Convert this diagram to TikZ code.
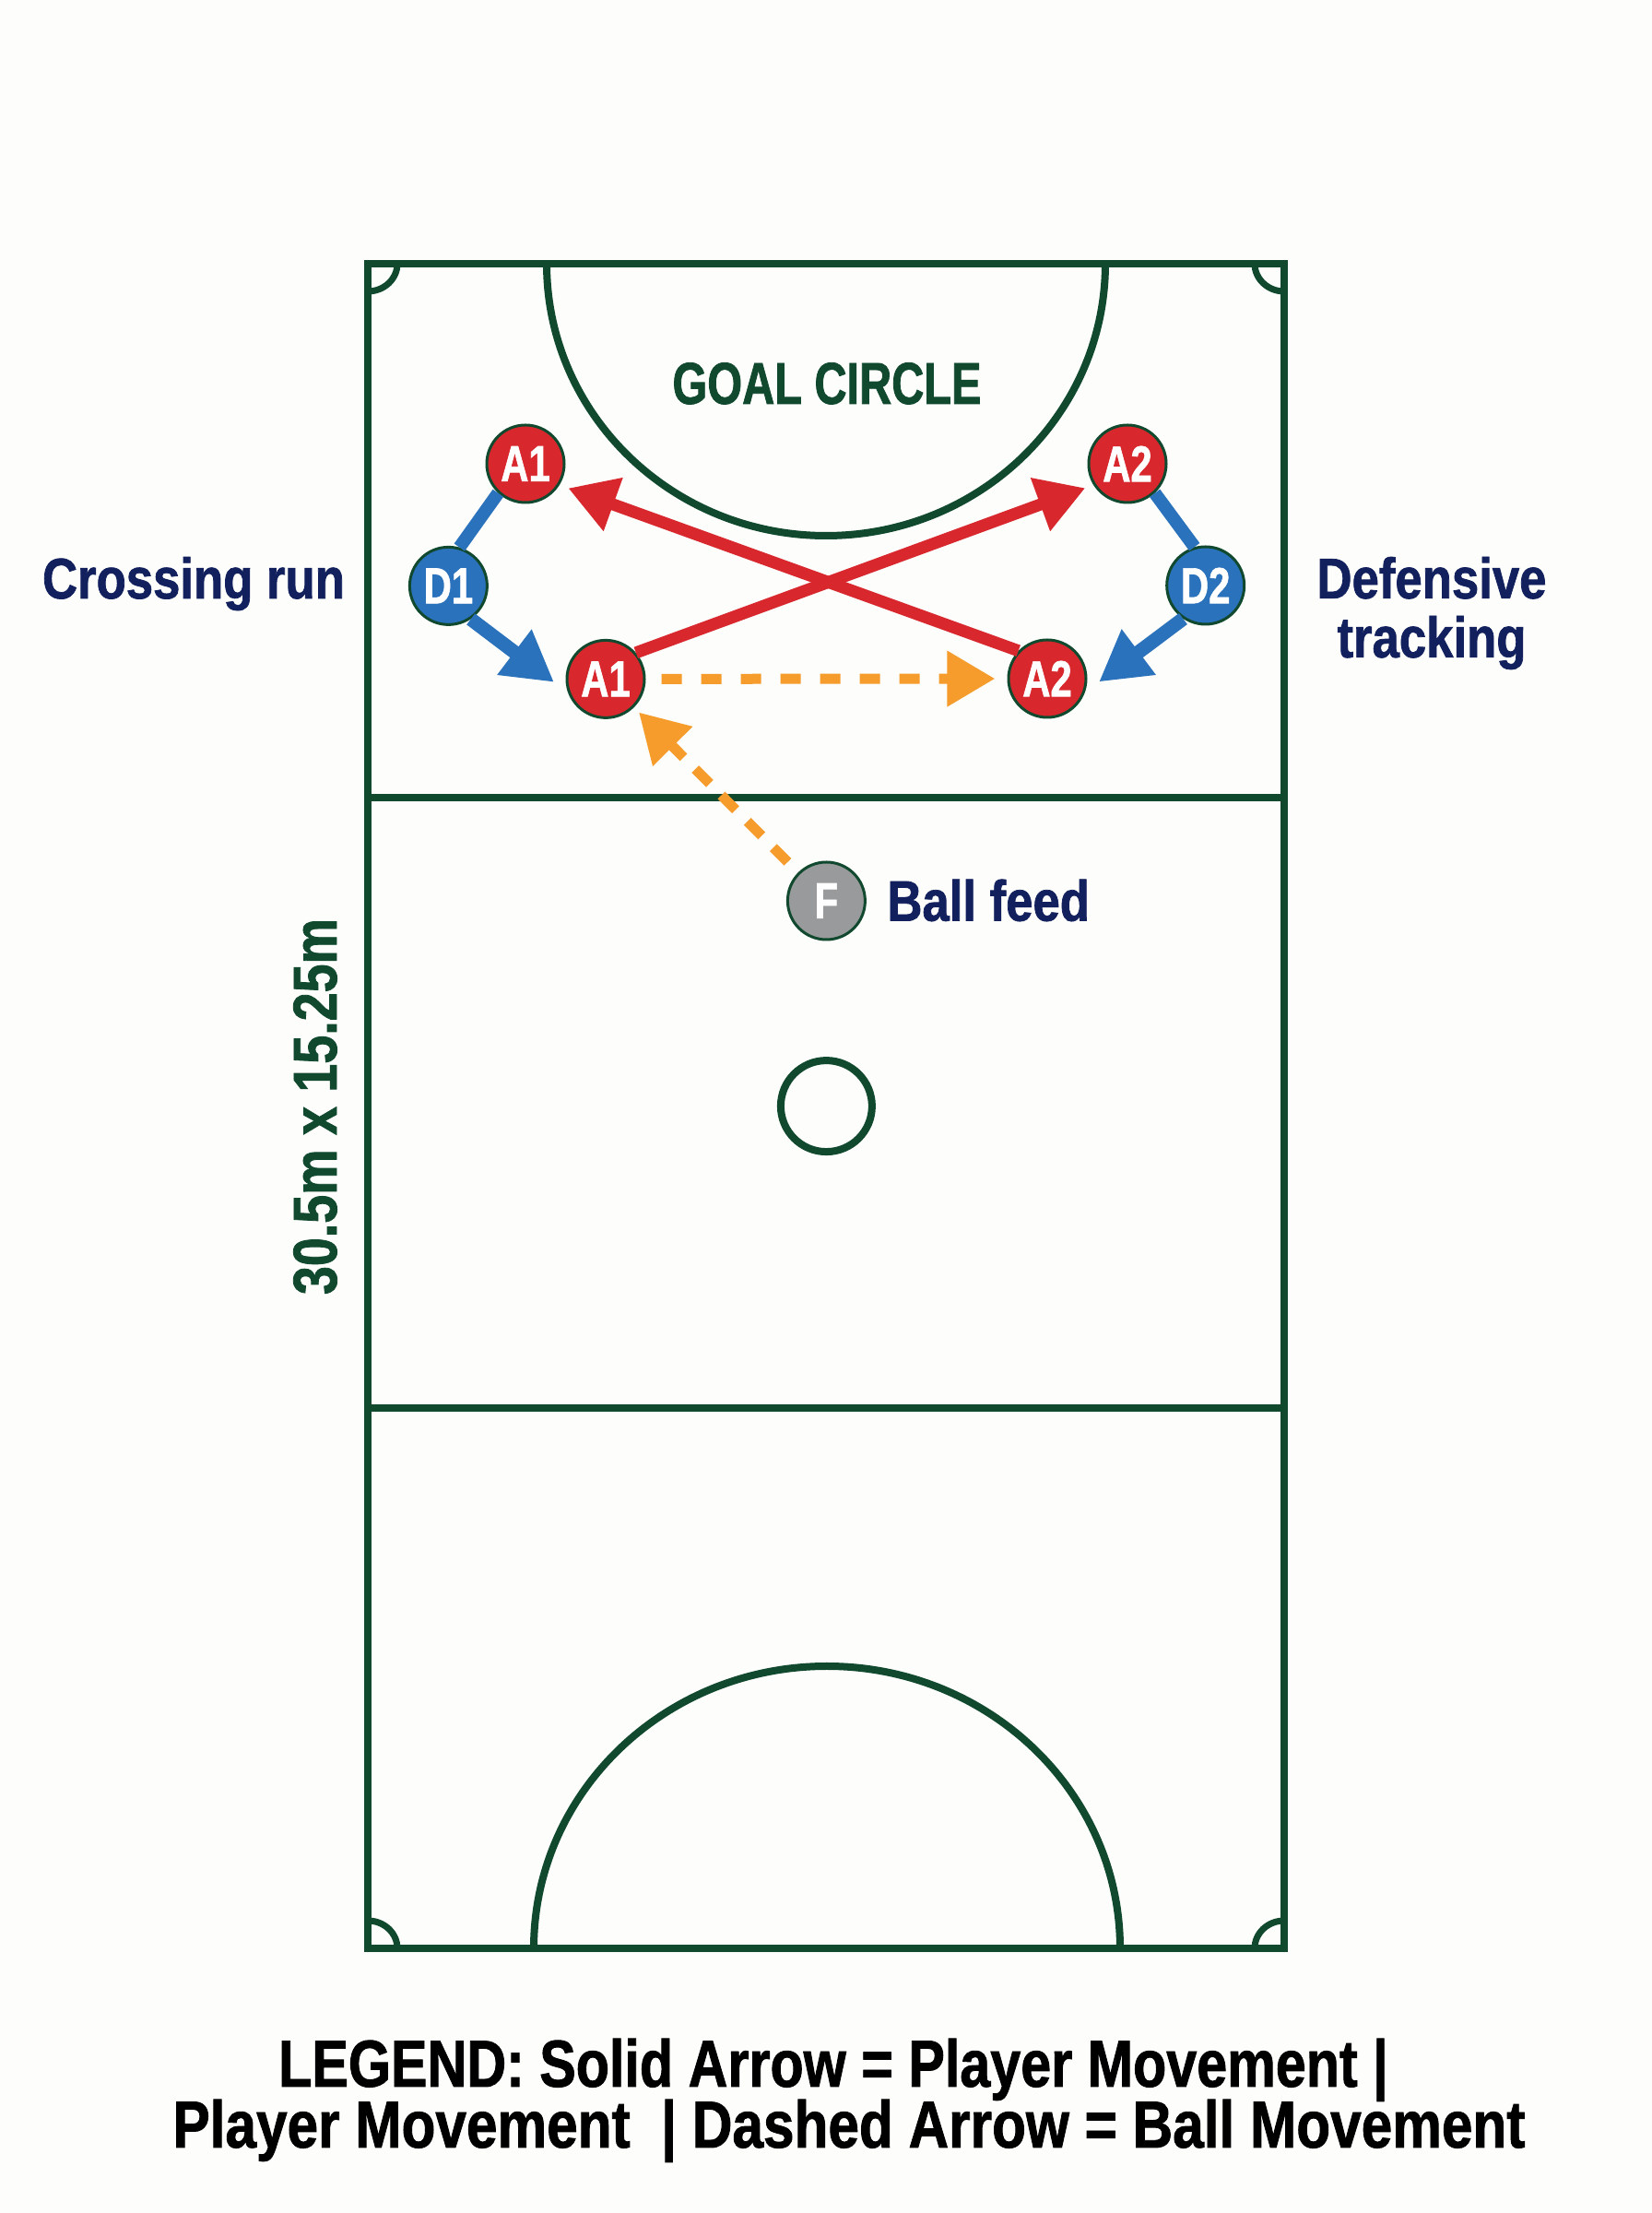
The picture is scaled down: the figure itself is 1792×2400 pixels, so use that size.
\documentclass[tikz,border=0pt]{standalone}
\usepackage{fontspec}
\usetikzlibrary{arrows.meta}
\newfontfamily\labelfont[FakeStretch=0.85,FakeBold=1.2]{Liberation Sans}
\newfontfamily\legendfont[FakeStretch=0.83,FakeBold=1.2]{Liberation Sans}
\newfontfamily\legendtopfont[FakeStretch=0.823,FakeBold=1.2]{Liberation Sans}
\newfontfamily\legendlowfont[FakeStretch=0.838,FakeBold=1.2]{Liberation Sans}
\newfontfamily\narrowfont[FakeStretch=0.76,FakeBold=1.2]{Liberation Sans}
\definecolor{paper}{HTML}{FDFDFB}
\definecolor{courtgreen}{HTML}{11492F}
\definecolor{labelnavy}{HTML}{12215E}
\definecolor{playerred}{HTML}{D8282D}
\definecolor{playerblue}{HTML}{2B72BC}
\definecolor{ballorange}{HTML}{F59C2C}
\definecolor{feedgrey}{HTML}{999A9C}
\tikzset{
  courtline/.style={draw=courtgreen, line width=4pt},
  player/.style={circle, draw=courtgreen, line width=1.5pt, minimum size=42pt, inner sep=0pt,
    text=white, font=\narrowfont\bfseries\fontsize{27.5}{27.5}\selectfont},
  attacker/.style={player, fill=playerred},
  defender/.style={player, fill=playerblue},
  feeder/.style={player, fill=feedgrey},
  sidelabel/.style={text=labelnavy, align=center, inner sep=0pt, font=\labelfont\bfseries\fontsize{31}{32}\selectfont},
  legendline/.style={text=black, anchor=base, inner sep=0pt},
  run/.style={draw=playerred, line width=6.5pt, -{Triangle[length=26pt,width=29pt]}, playerred},
  track/.style={draw=playerblue, line width=7.5pt, -{Triangle[length=27pt,width=29pt]}, playerblue},
  tether/.style={draw=playerblue, line width=7pt},
  pass/.style={draw=ballorange, line width=5.5pt, dash pattern=on 11pt off 10.5pt, -{Triangle[length=26pt,width=29pt]}, ballorange}
}
\begin{document}
\begin{tikzpicture}[x=0.5pt,y=0.5pt]
  \useasboundingbox[fill=paper] (0,0) rectangle (1792,2400);

  % court
  \draw[courtline] (399,287) rectangle (1393,2114);
  \draw[courtline] (399,1535) -- (1393,1535);
  \draw[courtline] (399,873) -- (1393,873);
  \draw[courtline] (593,2114) arc [start angle=180, end angle=360, x radius=303, y radius=295];
  \draw[courtline] (579,287) arc [start angle=180, end angle=0, x radius=318, y radius=306];
  \foreach \cx/\cy/\sa in {399/2114/-90, 1393/2114/180, 399/287/0, 1393/287/90}{
    \draw[courtline, line width=3.5pt] (\cx,\cy) ++(\sa:32 and 30) arc [start angle=\sa, delta angle=90, x radius=32, y radius=30];
  }
  \node[circle, courtline, minimum size=49.5pt, inner sep=0pt] (centre) at (896.4,1200.4) {};

  % players
  \node[attacker] (a1top) at (570,1897) {A1};
  \node[attacker] (a2top) at (1223,1897) {A2};
  \node[attacker] (a1low) at (657,1663.6) {A1};
  \node[attacker] (a2low) at (1136,1664) {A2};
  \node[defender] (d1) at (486.4,1764.6) {D1};
  \node[defender] (d2) at (1307.7,1765) {D2};
  \node[feeder] (feed) at (896.4,1423) {F};

  % movement
  \draw[run, shorten >=5pt] (a2low.136) -- (a1top.-32);
  \draw[run, shorten >=4.7pt] (a1low.41) -- (a2top.212);
  \draw[tether] (a1top.227) -- (d1.74);
  \draw[tether] (a2top.-47) -- (d2.106);
  \draw[track, shorten >=9.5pt] (d1.-56) -- (a1low.200);
  \draw[track, shorten >=9.5pt] (d2.236) -- (a2low.-20);

  % ball
  \draw[pass, shorten <=8.5pt, shorten >=6.6pt] (a1low) -- (a2low);
  \draw[pass, dash pattern=on 11pt off 9pt, shorten <=8pt, shorten >=3.8pt] (feed) -- (a1low);

  % labels
  \node[anchor=base, text=courtgreen, inner sep=0pt, font=\narrowfont\bfseries\fontsize{32}{32}\selectfont] (goal) at (897,1962) {GOAL CIRCLE};
  \node[sidelabel, anchor=base] (crossing) at (210,1751) {Crossing run};
  \node[sidelabel] (tracking) at (1553,1735) {Defensive\\tracking};
  \node[sidelabel, anchor=base west] (ballfeed) at (962,1401.4) {Ball feed};
  \node[rotate=90, anchor=base, text=courtgreen, inner sep=0pt, font=\legendfont\bfseries\fontsize{33.5}{33.5}\selectfont] (size) at (365,1200) {30.5m x 15.25m};
  \node[legendline, font=\legendtopfont\bfseries\fontsize{36}{36}\selectfont] (legendtop) at (904,137) {LEGEND: Solid Arrow = Player Movement |};
  \node[legendline, font=\legendlowfont\bfseries\fontsize{36}{36}\selectfont] (legendlow) at (921,71) {Player Movement \ | Dashed Arrow = Ball Movement};
\end{tikzpicture}
\end{document}
